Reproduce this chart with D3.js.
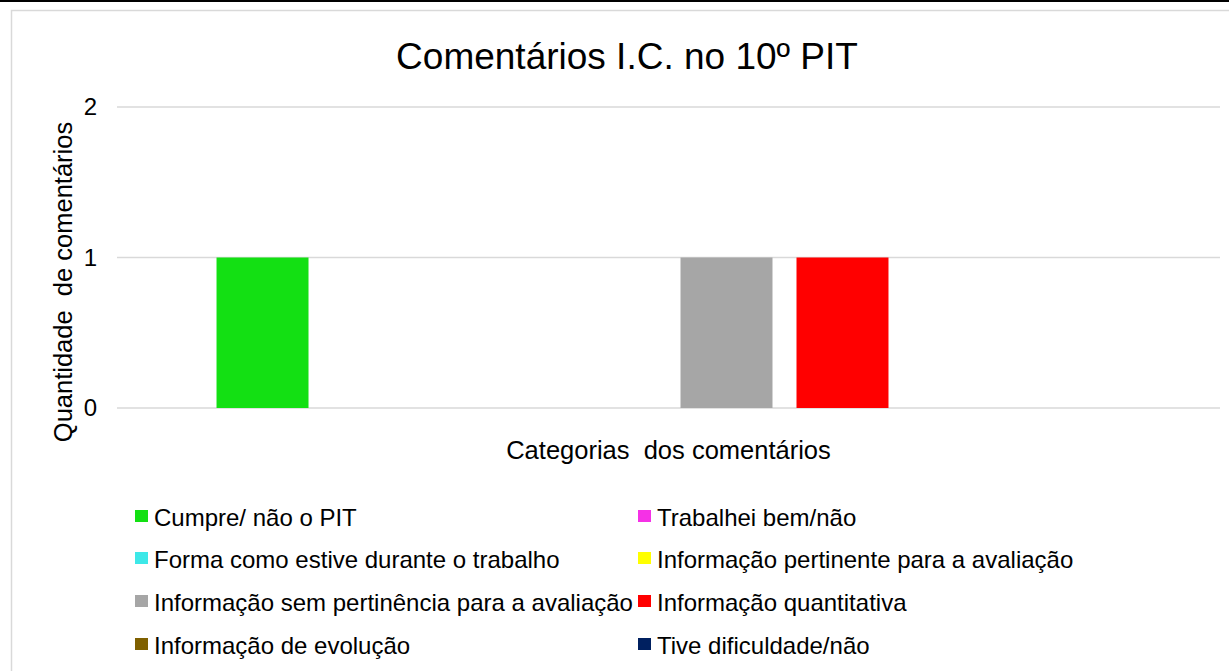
<!DOCTYPE html>
<html>
<head>
<meta charset="utf-8">
<script src="https://cdn.jsdelivr.net/npm/d3@7"></script>
<style>
  html, body { margin: 0; padding: 0; background: #fff; }
  svg { display: block; font-family: "Liberation Sans", Arial, sans-serif; }
</style>
</head>
<body>
<svg id="chart" width="1229" height="671"></svg>
<script>
// Comment categories and counts for the 10th PIT
const categoryGroup = ["Categorias  dos comentários"];
const seriesNames = [
  "Cumpre/ não o PIT",
  "Trabalhei bem/não",
  "Forma como estive durante o trabalho",
  "Informação pertinente para a avaliação",
  "Informação sem pertinência para a avaliação",
  "Informação quantitativa",
  "Informação de evolução",
  "Tive dificuldade/não"
];
const seriesValues = [1, 0, 0, 0, 1, 1, 0, 0];
const seriesColors = ["#13e013", "#f531e6", "#3de8e8", "#ffff00", "#a6a6a6", "#ff0000", "#7f6000", "#002060"];
const yTicks = [0, 1, 2];

const svg = d3.select("#chart");
const W = 1229, H = 671;

// top rule and chart frame
svg.append("rect").attr("x", 0).attr("y", 0).attr("width", W).attr("height", 2).attr("fill", "#000");
svg.append("rect").attr("x", 11.5).attr("y", 10.5).attr("width", 1240).attr("height", 700)
  .attr("fill", "none").attr("stroke", "#d9d9d9").attr("stroke-width", 1.5);

const plot = { left: 117, right: 1220, top: 107, bottom: 408 };

const y = d3.scaleLinear().domain([0, 2]).range([plot.bottom, plot.top]);
const x0 = d3.scaleBand().domain(categoryGroup).range([plot.left, plot.right]);
const x1 = d3.scaleBand().domain(seriesNames).range([0, x0.bandwidth()])
  .paddingInner(0.207).paddingOuter(0.858);

// gridlines
svg.append("g").selectAll("line").data(yTicks).join("line")
  .attr("x1", plot.left).attr("x2", plot.right)
  .attr("y1", d => y(d)).attr("y2", d => y(d))
  .attr("stroke", "#d9d9d9").attr("stroke-width", 1.5);

// y axis labels
const yAxis = d3.axisLeft(y).tickValues(yTicks).tickFormat(d3.format("d")).tickSize(0).tickPadding(20);
const gy = svg.append("g").attr("transform", `translate(${plot.left},0)`).call(yAxis);
gy.select(".domain").remove();
gy.selectAll("text").attr("font-size", 24).attr("fill", "#000")
  .attr("font-family", "Liberation Sans, Arial, sans-serif");

// bars
const gBars = svg.append("g");
categoryGroup.forEach(cat => {
  gBars.selectAll("rect").data(seriesNames.map((s, i) => ({ s, v: seriesValues[i], c: seriesColors[i] })))
    .join("rect")
    .attr("x", d => x0(cat) + x1(d.s))
    .attr("width", x1.bandwidth())
    .attr("y", d => y(d.v))
    .attr("height", d => y(0) - y(d.v))
    .attr("fill", d => d.c);
});

// title
svg.append("text").attr("x", 627).attr("y", 69).attr("text-anchor", "middle")
  .attr("font-size", 37).attr("fill", "#000").text("Comentários I.C. no 10º PIT");

// axis titles
svg.append("text").attr("x", x0(categoryGroup[0]) + x0.bandwidth() / 2).attr("y", 459)
  .attr("text-anchor", "middle").attr("font-size", 25.5).attr("fill", "#000")
  .style("white-space", "pre").attr("xml:space", "preserve").text(categoryGroup[0]);
svg.append("text").attr("transform", "translate(72,282) rotate(-90)")
  .attr("text-anchor", "middle").attr("font-size", 25.5).attr("fill", "#000")
  .style("white-space", "pre").attr("xml:space", "preserve").text("Quantidade  de comentários");

// legend in two columns
const legCols = [135, 638];
const legRows = [510, 552, 595, 638];
const leg = svg.append("g").selectAll("g").data(seriesNames).join("g")
  .attr("transform", (d, i) => `translate(${legCols[i % 2]},${legRows[Math.floor(i / 2)]})`);
leg.append("rect").attr("width", 13).attr("height", 12).attr("fill", (d, i) => seriesColors[i]);
leg.append("text").attr("x", 19).attr("y", 8).attr("dy", "0.35em")
  .attr("font-size", 24).attr("fill", "#000").text(d => d);
</script>
</body>
</html>
